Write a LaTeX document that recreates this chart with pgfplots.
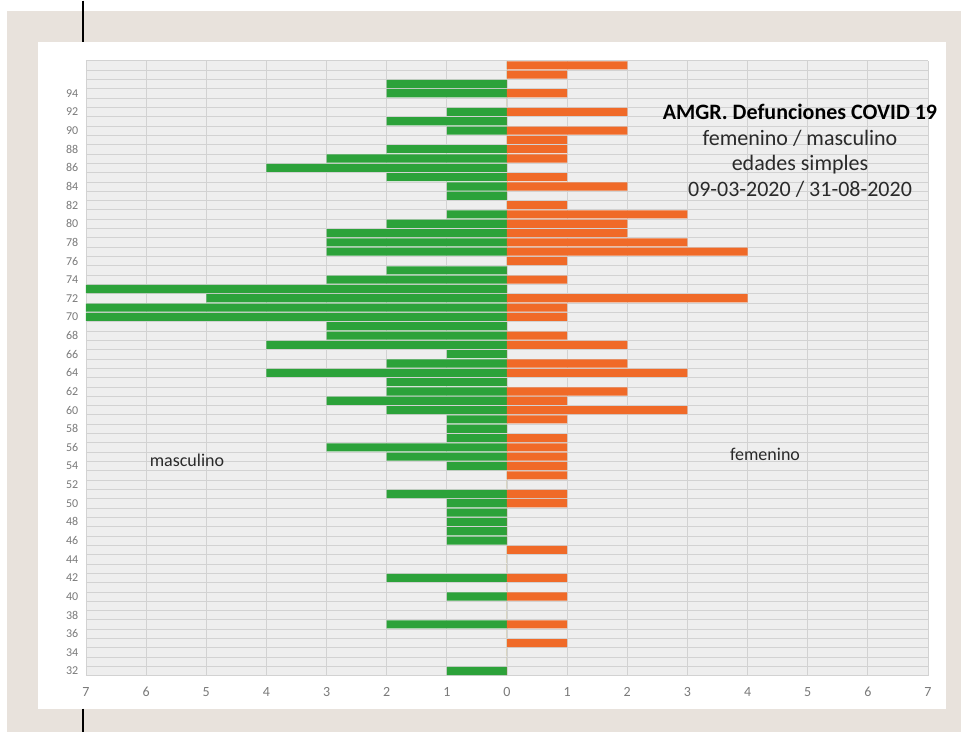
\documentclass[border=0pt]{standalone}
\usepackage{pgfplots}
\pgfplotsset{compat=1.18}
\usepackage{pgfplotstable}
\usepackage{fontspec}
\setmainfont{Carlito}

\definecolor{pagebg}{HTML}{E8E2DC}
\definecolor{masc}{HTML}{2CA23A}
\definecolor{fem}{HTML}{F06A28}
\definecolor{plotbg}{HTML}{EEEEEE}
\definecolor{gridc}{HTML}{D2D2D2}
\definecolor{tickc}{HTML}{7A7A7A}
\definecolor{textc}{HTML}{2A2A2A}

% Deaths by single year of age: m = masculino, f = femenino
\pgfplotstableread{
age m f
97 0 2
96 0 1
95 2 0
94 2 1
93 0 0
92 1 2
91 2 0
90 1 2
89 0 1
88 2 1
87 3 1
86 4 0
85 2 1
84 1 2
83 1 0
82 0 1
81 1 3
80 2 2
79 3 2
78 3 3
77 3 4
76 0 1
75 2 0
74 3 1
73 7 0
72 5 4
71 7 1
70 7 1
69 3 0
68 3 1
67 4 2
66 1 0
65 2 2
64 4 3
63 2 0
62 2 2
61 3 1
60 2 3
59 1 1
58 1 0
57 1 1
56 3 1
55 2 1
54 1 1
53 0 1
52 0 0
51 2 1
50 1 1
49 1 0
48 1 0
47 1 0
46 1 0
45 0 1
44 0 0
43 0 0
42 2 1
41 0 0
40 1 1
39 0 0
38 0 0
37 2 1
36 0 0
35 0 1
34 0 0
33 0 0
32 1 0
}\deaths

\begin{document}
\begin{tikzpicture}
  \begin{scope}[x=0.75pt,y=0.75pt]
    % page, panel and margin rule
    \fill[white] (0,0) rectangle (961,731);
    \fill[pagebg] (7,0) rectangle (961,721);
    \fill[white] (38,23) rectangle (946,690);
    \draw[black, line width=1pt] (83,731) -- (83,690) (83,23) -- (83,0);
  \end{scope}

  \begin{axis}[
    at={(64.5pt,42pt)}, anchor=south west,
    scale only axis, width=631.5pt, height=461.25pt,
    xmin=-7, xmax=7, ymin=31.5, ymax=97.5,
    xbar, bar shift=0pt, bar width=0.87,
    xtick={-7,...,7},
    xticklabels={7,6,5,4,3,2,1,0,1,2,3,4,5,6,7},
    ytick={32,34,...,94},
    minor ytick={31.5,32.5,...,97.5},
    xmajorgrids, yminorgrids,
    major grid style={gridc, line width=0.6pt},
    minor grid style={gridc, line width=0.45pt},
    axis line style={draw=none},
    tick style={draw=none},
    axis background/.style={fill=plotbg},
    /pgf/number format/assume math mode=true,
    yticklabel style={font=\fontsize{9}{10}\selectfont, text=tickc, xshift=2pt},
    xticklabel style={font=\fontsize{10.5}{11}\selectfont, text=tickc, yshift=-5pt},
  ]
    \addplot[fill=masc, draw=none] table[x expr=-\thisrow{m}, y=age] {\deaths};
    \addplot[fill=fem, draw=none] table[x=f, y=age] {\deaths};
  \end{axis}

  \begin{scope}[x=0.75pt,y=0.75pt]
    % title block
    \node[anchor=base, inner sep=0, text=black, font=\bfseries\fontsize{16.5}{19}\selectfont] at (800,612) {AMGR. Defunciones COVID 19};
    \node[anchor=base, inner sep=0, text=textc, font=\fontsize{16.5}{19}\selectfont] at (800,586) {femenino / masculino};
    \node[anchor=base, inner sep=0, text=textc, font=\fontsize{16.5}{19}\selectfont] at (800,561) {edades simples};
    \node[anchor=base, inner sep=0, text=textc, font=\fontsize{16.5}{19}\selectfont] at (800,535) {09-03-2020 / 31-08-2020};
    % side labels
    \node[anchor=base, inner sep=0, text=textc, font=\fontsize{13.5}{16}\selectfont] at (187,265) {masculino};
    \node[anchor=base, inner sep=0, text=textc, font=\fontsize{13.5}{16}\selectfont] at (765,271) {femenino};
  \end{scope}
\end{tikzpicture}
\end{document}
